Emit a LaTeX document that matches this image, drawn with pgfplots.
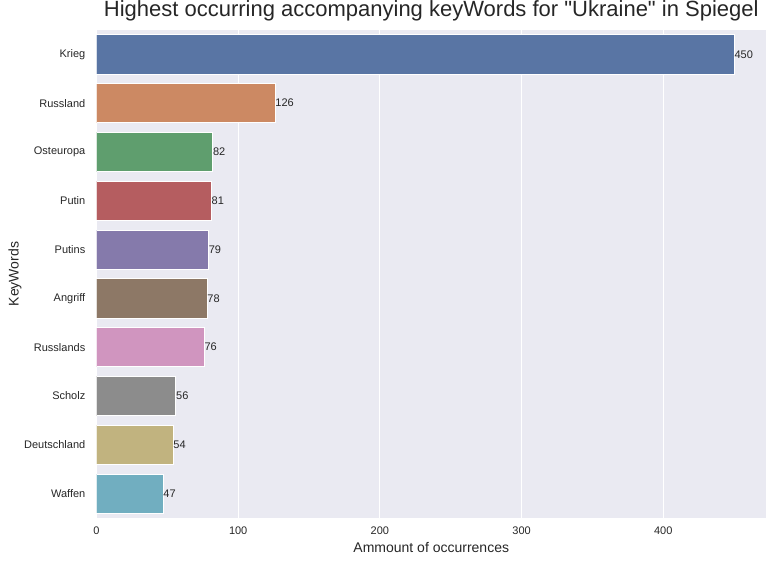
\documentclass[border=0pt]{standalone}
\usepackage{pgfplots}
\pgfplotsset{compat=1.18}
\usepackage{fontspec}
\setmainfont{Liberation Sans}
\definecolor{axbg}{HTML}{EAEAF2}
\definecolor{txt}{HTML}{262626}
\definecolor{c1}{HTML}{5975A4}
\definecolor{c2}{HTML}{CC8963}
\definecolor{c3}{HTML}{5F9E6E}
\definecolor{c4}{HTML}{B55D60}
\definecolor{c5}{HTML}{857AAB}
\definecolor{c6}{HTML}{8D7866}
\definecolor{c7}{HTML}{D095BF}
\definecolor{c8}{HTML}{8C8C8C}
\definecolor{c9}{HTML}{C1B37F}
\definecolor{c10}{HTML}{71AEC0}
\begin{document}
\begin{tikzpicture}[x=1pt,y=1pt]
\begin{axis}[
  at={(96.5pt,45pt)}, anchor=south west,
  scale only axis, width=669.5pt, height=488pt,
  xbar, /pgf/bar shift=0pt, bar width=0.8,
  y dir=reverse,
  xmin=0, xmax=472.5, ymin=-0.5, ymax=9.5,
  xtick={0,100,200,300,400},
  ytick={0,1,2,3,4,5,6,7,8,9},
  yticklabels={Krieg,Russland,Osteuropa,Putin,Putins,Angriff,Russlands,Scholz,Deutschland,Waffen},
  major tick length=0pt,
  axis line style={draw=none},
  axis background/.style={fill=axbg},
  xmajorgrids, ymajorgrids=false,
  grid style={white, line width=1pt},
  /pgf/number format/assume math mode=true,
  tick label style={font=\fontsize{11}{13}\selectfont, text=txt},
  yticklabel style={inner sep=0pt, xshift=-11pt},
  xticklabel style={inner sep=0pt, yshift=-9pt},
  title={Highest occurring accompanying keyWords for \textquotedbl Ukraine\textquotedbl{} in Spiegel},
  title style={at={(axis description cs:0.5,1.0)}, anchor=south, yshift=2.8pt, font=\fontsize{22}{26}\selectfont, text=txt, inner sep=0pt},
  xlabel={Ammount of occurrences},
  xlabel style={at={(axis description cs:0.5,-0.0717)}, anchor=base, font=\fontsize{14}{17}\selectfont, text=txt, inner sep=0pt},
  ylabel={KeyWords},
  ylabel style={at={(axis description cs:-0.1165,0.5)}, anchor=base, font=\fontsize{14}{17}\selectfont, text=txt, inner sep=0pt},
  nodes near coords,
  nodes near coords style={anchor=west, inner sep=0pt, font=\fontsize{11}{13}\selectfont, text=txt},
  every axis plot/.append style={draw=white, line width=0.8pt},
]
\addplot[fill=c1] coordinates {(450,0)};
\addplot[fill=c2] coordinates {(126,1)};
\addplot[fill=c3] coordinates {(82,2)};
\addplot[fill=c4] coordinates {(81,3)};
\addplot[fill=c5] coordinates {(79,4)};
\addplot[fill=c6] coordinates {(78,5)};
\addplot[fill=c7] coordinates {(76,6)};
\addplot[fill=c8] coordinates {(56,7)};
\addplot[fill=c9] coordinates {(54,8)};
\addplot[fill=c10] coordinates {(47,9)};
\end{axis}
\pgfresetboundingbox
\useasboundingbox (0,0) rectangle (772,563);
\end{tikzpicture}
\end{document}
